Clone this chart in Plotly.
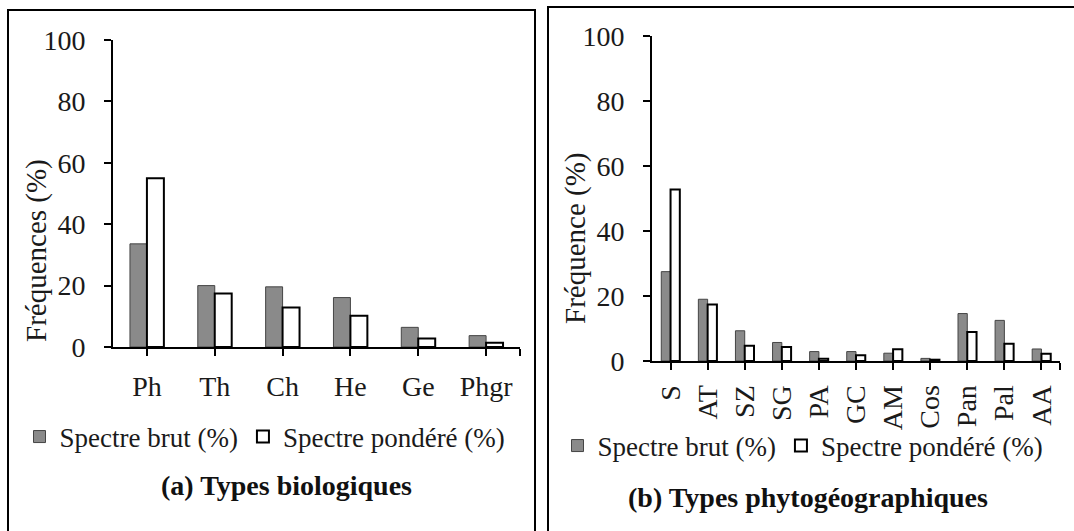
import plotly.graph_objects as go

W, H = 1074, 531

# ---- data ----
bio_types = ["Ph", "Th", "Ch", "He", "Ge", "Phgr"]
bio_brut = [33.6, 20.0, 19.6, 16.1, 6.4, 3.7]
bio_pondere = [55.0, 17.4, 12.9, 10.2, 2.8, 1.4]

geo_types = ["S", "AT", "SZ", "SG", "PA", "GC", "AM", "Cos", "Pan", "Pal", "AA"]
geo_brut = [27.5, 19.0, 9.3, 5.7, 2.9, 2.9, 2.4, 0.8, 14.6, 12.5, 3.7]
geo_pondere = [52.8, 17.4, 4.7, 4.3, 0.7, 1.8, 3.6, 0.4, 8.9, 5.3, 2.2]

y_ticks = [0, 20, 40, 60, 80, 100]
name_brut = "Spectre brut (%)"
name_pond = "Spectre pondéré (%)"

FONT = "Liberation Serif, Times New Roman, Times, serif"
TXT = "#1a1a1a"
BRUT_FILL = "#8a8a8a"
BRUT_LINE = "#454545"


def px_x(p):
    return p / W


def px_y(p):
    return 1 - p / H


fig = go.Figure()

xi_bio = list(range(len(bio_types)))
xi_geo = list(range(len(geo_types)))

fig.add_trace(go.Bar(x=xi_bio, y=bio_brut, name=name_brut, xaxis="x", yaxis="y",
                     marker=dict(color=BRUT_FILL, line=dict(color=BRUT_LINE, width=1)),
                     legend="legend"))
fig.add_trace(go.Bar(x=xi_bio, y=bio_pondere, name=name_pond, xaxis="x", yaxis="y",
                     marker=dict(color="white", line=dict(color="black", width=2)),
                     legend="legend"))
fig.add_trace(go.Bar(x=xi_geo, y=geo_brut, name=name_brut, xaxis="x2", yaxis="y2",
                     marker=dict(color=BRUT_FILL, line=dict(color=BRUT_LINE, width=1)),
                     legend="legend2"))
fig.add_trace(go.Bar(x=xi_geo, y=geo_pondere, name=name_pond, xaxis="x2", yaxis="y2",
                     marker=dict(color="white", line=dict(color="black", width=2)),
                     legend="legend2"))

axis_common = dict(showline=True, linecolor="black", linewidth=2, ticks="outside",
                   ticklen=7, tickwidth=2, tickcolor="black", showgrid=False,
                   zeroline=False, automargin=False,
                   tickfont=dict(family=FONT, size=28, color=TXT))

fig.update_layout(
    width=W, height=H,
    margin=dict(l=0, r=0, t=0, b=0),
    paper_bgcolor="white", plot_bgcolor="white",
    barmode="group", bargap=0.5, bargroupgap=0,
    font=dict(family=FONT, color=TXT),
    xaxis=dict(axis_common, domain=[px_x(113), px_x(520)], anchor="y",
               range=[-0.5, len(bio_types) - 0.5],
               tickmode="array", tickvals=xi_bio + [len(bio_types) - 0.5],
               ticktext=bio_types + [""], ticklabelstandoff=6),
    yaxis=dict(axis_common, domain=[px_y(347), px_y(40)], anchor="x",
               range=[0, 100], tickmode="array", tickvals=y_ticks,
               ticklabelstandoff=13),
    xaxis2=dict(axis_common, domain=[px_x(652), px_x(1060)], anchor="y2",
                range=[-0.5, len(geo_types) - 0.5],
                tickmode="array", tickvals=xi_geo + [len(geo_types) - 0.5],
                ticktext=geo_types + [""], tickangle=-90, ticklabelstandoff=4),
    yaxis2=dict(axis_common, domain=[px_y(361), px_y(36)], anchor="x2",
                range=[0, 100], tickmode="array", tickvals=y_ticks,
                ticklabelstandoff=13),
    legend=dict(orientation="h", x=px_x(265), xanchor="center", y=px_y(437),
                yanchor="middle", font=dict(family=FONT, size=27, color=TXT),
                bgcolor="rgba(0,0,0,0)", traceorder="normal"),
    legend2=dict(orientation="h", x=px_x(803), xanchor="center", y=px_y(446),
                 yanchor="middle", font=dict(family=FONT, size=27, color=TXT),
                 bgcolor="rgba(0,0,0,0)", traceorder="normal"),
    annotations=[
        dict(text="Fréquences (%)", xref="paper", yref="paper",
             x=px_x(36), y=px_y(251), xanchor="center", yanchor="middle",
             textangle=-90, showarrow=False, font=dict(family=FONT, size=29, color=TXT)),
        dict(text="Fréquence (%)", xref="paper", yref="paper",
             x=px_x(575), y=px_y(238), xanchor="center", yanchor="middle",
             textangle=-90, showarrow=False, font=dict(family=FONT, size=29, color=TXT)),
        dict(text="<b>(a) Types biologiques</b>", xref="paper", yref="paper",
             x=px_x(286), y=px_y(485), xanchor="center", yanchor="middle",
             showarrow=False, font=dict(family=FONT, size=28, color="#111")),
        dict(text="<b>(b) Types phytogéographiques</b>", xref="paper", yref="paper",
             x=px_x(808), y=px_y(497), xanchor="center", yanchor="middle",
             showarrow=False, font=dict(family=FONT, size=28, color="#111")),
    ],
    shapes=[
        dict(type="rect", xref="paper", yref="paper", x0=px_x(8), x1=px_x(535),
             y0=px_y(540), y1=px_y(10), line=dict(color="black", width=2)),
        dict(type="rect", xref="paper", yref="paper", x0=px_x(548), x1=px_x(1090),
             y0=px_y(540), y1=px_y(7), line=dict(color="black", width=2)),
    ],
)

fig.write_html("out.html")
